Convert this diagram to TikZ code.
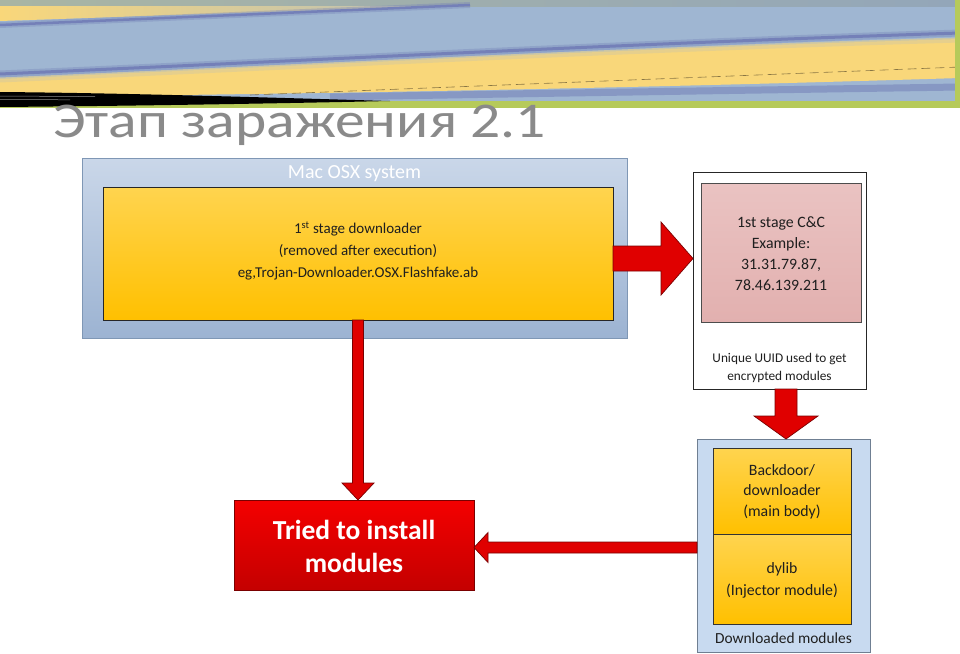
\documentclass[tikz,border=0pt]{standalone}
\usepackage{fontspec}
\setmainfont{Carlito}
\usetikzlibrary{calc}
\definecolor{bblue}{HTML}{9FB6D2}
\definecolor{byellow}{HTML}{F9D77A}
\definecolor{btopl}{HTML}{A9B5A3}
\definecolor{btopr}{HTML}{93A6B9}
\definecolor{bgreen}{HTML}{B6CA5A}
\definecolor{dline}{HTML}{7480B8}
\definecolor{titlegray}{HTML}{8A8A8A}
\definecolor{macTop}{HTML}{CAD7E9}
\definecolor{macBot}{HTML}{9CB3D2}
\definecolor{macEdge}{HTML}{7F97B5}
\definecolor{ylTop}{HTML}{FFD44F}
\definecolor{ylBot}{HTML}{FFC000}
\definecolor{pinkTop}{HTML}{EAC3C2}
\definecolor{pinkBot}{HTML}{E2B0AF}
\definecolor{arrRed}{HTML}{E00000}
\definecolor{arrEdge}{HTML}{7A0000}
\definecolor{trTop}{HTML}{F40000}
\definecolor{trBot}{HTML}{C40000}
\definecolor{dmFill}{HTML}{C8DAF0}
\definecolor{dmEdge}{HTML}{6F7F92}
\newcommand\fatarrow[6][]{%
  \coordinate (fa-h) at ($(#3)!#6!(#2)$);
  \draw[fatarrowstyle,#1] ($(#2)!#4!90:(#3)$) -- ($(fa-h)!#4!90:(#3)$)
    -- ($(fa-h)!#5!90:(#3)$) -- (#3) -- ($(fa-h)!#5!-90:(#3)$)
    -- ($(fa-h)!#4!-90:(#3)$) -- ($(#2)!#4!-90:(#3)$) -- cycle;}
\begin{document}
\begin{tikzpicture}[x=1pt,y=-1pt,
  box/.style={rectangle, inner sep=0pt, outer sep=0pt},
  fatarrowstyle/.style={fill=arrRed, draw=arrEdge, line width=0.7pt, line join=miter},
  txt/.style={inner sep=0pt, align=center, text=black!88}]
\useasboundingbox (0,0) rectangle (960,653);
\fill[white] (0,0) rectangle (960,653);
% ---------- banner ----------
\fill[bblue] (0,0) rectangle (960,108);
\shade[left color=btopl, right color=btopr] (0,0) rectangle (960,6);
\shade[left color=byellow, right color=byellow!30!bblue] (0,6) -- (440,6) -- (0,21) -- cycle;
\draw[dline, opacity=0.35, line width=6pt] (0,25) -- (470,5);
\draw[dline, line width=2.5pt] (0,25) -- (470,5);
\fill[byellow] (0,79) .. controls (320,65) and (640,48) .. (960,39)
   -- (960,78) .. controls (640,88) and (320,94) .. (0,97) -- cycle;
\draw[byellow!70!bblue, line width=5pt, opacity=0.7] (0,80) .. controls (320,66) and (640,49) .. (960,40);
\draw[dline, opacity=0.35, line width=7pt] (0,74) .. controls (320,60) and (640,43) .. (960,33);
\draw[dline, line width=3pt] (0,74) .. controls (320,60) and (640,43) .. (960,33);
\draw[dline, opacity=0.55, line width=7pt] (330,97) .. controls (560,93) and (760,90) .. (960,87);
\draw[black!45!byellow, line width=0.6pt, dash pattern=on 9pt off 5pt] (250,95) -- (960,67);
\fill[bgreen] (0,101) rectangle (960,108);
\fill[bgreen] (955,0) rectangle (960,108);
\fill[black] (0,92) .. controls (120,93) and (250,97) .. (390,101)
   .. controls (250,104) and (120,106) .. (0,107) -- cycle;
\draw[black!45, line width=0.5pt] (0,96) -- (95,96.6);
\draw[black!45, line width=0.5pt] (0,99.5) -- (70,99.8);
% ---------- title ----------
\node[anchor=base west, inner sep=0pt, text=titlegray, font=\fontsize{50}{52}\selectfont] (title) at (53,137) {\scalebox{1.19}[1]{Этап заражения 2.1}};
% ---------- Mac OSX system ----------
\node[box, minimum width=545pt, minimum height=180pt, top color=macTop, bottom color=macBot, draw=macEdge, line width=0.8pt] (mac) at (354.5,248) {};
\node[txt, text=white, font=\fontsize{20}{22}\selectfont] (maclbl) at (354.5,174) {Mac OSX system};
\node[box, minimum width=510pt, minimum height=133pt, top color=ylTop, bottom color=ylBot, draw=black!85, line width=0.7pt] (yb) at (358,253.5) {};
\node[txt, font=\fontsize{15}{22}\selectfont] (ybt) at (358,251) {1\textsuperscript{st} stage downloader\\(removed after execution)\\eg,Trojan-Downloader.OSX.Flashfake.ab};
% ---------- C&C ----------
\node[box, minimum width=173pt, minimum height=217pt, fill=white, draw=black!85, line width=0.7pt] (ccout) at (779.5,280.5) {};
\node[box, minimum width=160pt, minimum height=139pt, top color=pinkTop, bottom color=pinkBot, draw=black!70, line width=0.7pt] (cc) at (781,252.5) {};
\node[txt, font=\fontsize{15.8}{21}\selectfont] (cct) at (781,254) {1st stage C\&C\\Example:\\31.31.79.87,\\78.46.139.211};
\node[txt, font=\fontsize{13.3}{18.5}\selectfont] (uuid) at (779.5,368) {Unique UUID used to get\\encrypted modules};
% ---------- Downloaded modules ----------
\node[box, minimum width=173pt, minimum height=213pt, fill=dmFill, draw=dmEdge, line width=0.8pt] (dm) at (783.5,545.5) {};
\node[box, minimum width=138pt, minimum height=86pt, top color=ylTop, bottom color=ylBot, draw=black!80, line width=0.7pt] (bd) at (782,491) {};
\node[box, minimum width=138pt, minimum height=90pt, top color=ylTop, bottom color=ylBot, draw=black!80, line width=0.7pt] (dy) at (782,579) {};
\node[txt, font=\fontsize{15.8}{20.5}\selectfont] (bdt) at (782,491.5) {Backdoor/\\downloader\\(main body)};
\node[txt, font=\fontsize{15.8}{22}\selectfont] (dyt) at (782,580) {dylib\\(Injector module)};
\node[txt, font=\fontsize{15.4}{17}\selectfont] (dml) at (783.5,638) {Downloaded modules};
% ---------- Tried ----------
\node[box, minimum width=240pt, minimum height=90pt, top color=trTop, bottom color=trBot, draw=arrEdge, line width=0.8pt] (tried) at (354,545) {};
\node[txt, text=white, font=\fontsize{27.5}{33}\selectfont\bfseries] (triedt) at (354,546) {Tried to install\\modules};
% ---------- arrows ----------
\coordinate (a1s) at (yb.east |- 0,258.5);
\coordinate (a1t) at (ccout.west |- a1s);
\fatarrow{a1s}{a1t}{12.5pt}{36.5pt}{32pt}
\coordinate (a2s) at (yb.south);
\coordinate (a2t) at (a2s |- tried.north);
\fatarrow{a2s}{a2t}{5.5pt}{16pt}{17pt}
\coordinate (a3s) at (786,0 |- ccout.south);
\coordinate (a3t) at (a3s |- dm.north);
\fatarrow{a3s}{a3t}{11pt}{32pt}{23pt}
\coordinate (a4s) at (dm.west |- 0,547.5);
\coordinate (a4t) at (tried.east |- a4s);
\fatarrow{a4s}{a4t}{5.5pt}{15pt}{14pt}
\end{tikzpicture}
\end{document}
